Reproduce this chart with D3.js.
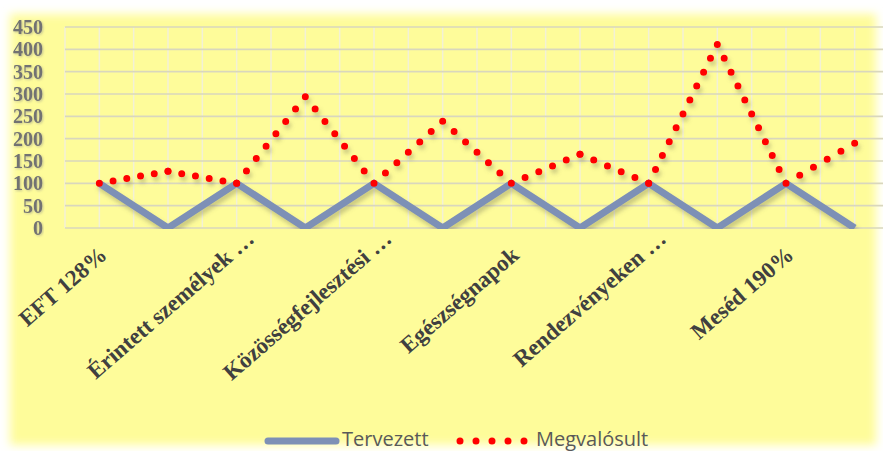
<!DOCTYPE html>
<html>
<head>
<meta charset="utf-8">
<script src="https://cdn.jsdelivr.net/npm/d3@7"></script>
<style>
  html, body { margin: 0; padding: 0; background: #fff; }
  svg { display: block; }
</style>
</head>
<body>
<div id="chart"></div>
<script>
const categories = [
  'EFT 128%', '', 'Érintett személyek …', '', 'Közösségfejlesztési …', '',
  'Egészségnapok', '', 'Rendezvényeken …', '', 'Meséd 190%', ''
]
const tervezett = [100, 0, 100, 0, 100, 0, 100, 0, 100, 0, 100, 0]
const megvalosult = [100, 127, 100, 294, 100, 239, 100, 165, 100, 411, 100, 190]
const yTicks = [0, 50, 100, 150, 200, 250, 300, 350, 400, 450]
const seriesNames = ['Tervezett', 'Megvalósult']

const width = 883
const height = 451
const plot = { left: 65, right: 889, top: 27, bottom: 228 }

const blue = '#7d90b6'
const red = '#ff0000'

const svg = d3.select('#chart')
  .append('svg')
  .attr('width', width)
  .attr('height', height)

const defs = svg.append('defs')

defs.append('filter')
  .attr('id', 'glow')
  .attr('x', '-10%').attr('y', '-10%')
  .attr('width', '120%').attr('height', '120%')
  .append('feGaussianBlur')
  .attr('stdDeviation', 5)

const shadow = defs.append('filter')
  .attr('id', 'shadow')
  .attr('x', '-10%').attr('y', '-10%')
  .attr('width', '120%').attr('height', '130%')
shadow.append('feDropShadow')
  .attr('dx', 2).attr('dy', 4)
  .attr('stdDeviation', 2)
  .attr('flood-color', '#6b6b50')
  .attr('flood-opacity', 0.35)

const textShadow = defs.append('filter').attr('id', 'tshadow')
textShadow.append('feDropShadow')
  .attr('dx', 1).attr('dy', 1)
  .attr('stdDeviation', 0.8)
  .attr('flood-color', '#888')
  .attr('flood-opacity', 0.5)

defs.append('clipPath')
  .attr('id', 'plotclip')
  .append('rect')
  .attr('x', 0).attr('y', 0)
  .attr('width', width).attr('height', plot.bottom + 1)

// background with soft white edge
svg.append('rect')
  .attr('width', width).attr('height', height)
  .attr('fill', '#fff')
svg.append('rect')
  .attr('x', 10).attr('y', 14)
  .attr('width', 866).attr('height', 431)
  .attr('fill', '#fefc9a')
  .attr('filter', 'url(#glow)')

// scales
const x = d3.scaleBand()
  .domain(d3.range(categories.length))
  .range([plot.left, plot.right])

const y = d3.scaleLinear()
  .domain([0, 450])
  .range([plot.bottom, plot.top])

const cx = i => x(i) + x.bandwidth() / 2

// gridlines
const grid = svg.append('g')

const vLines = []
d3.range(categories.length).forEach(i => { vLines.push(x(i), cx(i)) })
vLines.push(plot.right)

grid.selectAll('line.v')
  .data(vLines)
  .join('line')
  .attr('class', 'v')
  .attr('x1', d => d).attr('x2', d => d)
  .attr('y1', plot.top).attr('y2', plot.bottom)
  .attr('stroke', '#f3f1d6')
  .attr('stroke-width', 1.5)

grid.selectAll('line.h')
  .data(yTicks)
  .join('line')
  .attr('class', 'h')
  .attr('x1', plot.left).attr('x2', width)
  .attr('y1', d => y(d)).attr('y2', d => y(d))
  .attr('stroke', '#d9d7bd')
  .attr('stroke-width', 1.6)

// y axis
const yAxisG = svg.append('g')
  .attr('transform', `translate(${plot.left - 22}, 0)`)
  .call(d3.axisLeft(y).tickValues(yTicks).tickSize(0).tickPadding(0))

yAxisG.select('.domain').remove()
yAxisG.selectAll('text')
  .attr('font-family', '"Liberation Serif", serif')
  .attr('font-weight', 'bold')
  .attr('font-size', 20)
  .attr('fill', '#727272')
  .attr('filter', 'url(#tshadow)')

// x axis labels
const xLabels = svg.append('g')
xLabels.selectAll('text')
  .data(d3.range(categories.length).filter(i => categories[i]))
  .join('text')
  .attr('transform', i => {
    const trunc = categories[i].endsWith('…')
    const tx = cx(i) + (trunc ? 19 : 9)
    const ty = trunc ? 241 : 257
    return `translate(${tx}, ${ty}) rotate(-41)`
  })
  .attr('text-anchor', 'end')
  .attr('font-family', '"Liberation Serif", serif')
  .attr('font-weight', 'bold')
  .attr('font-size', 23)
  .attr('fill', '#404040')
  .text(i => categories[i])

// series
const lines = svg.append('g')
  .attr('clip-path', 'url(#plotclip)')
  .attr('filter', 'url(#shadow)')

const line = d3.line()
  .x((d, i) => cx(i))
  .y(d => y(d))

lines.append('path')
  .datum(tervezett)
  .attr('d', line)
  .attr('fill', 'none')
  .attr('stroke', blue)
  .attr('stroke-width', 7)
  .attr('stroke-linejoin', 'miter')

// dotted series: one dash run per segment so a dot sits on each point
const dotStep = 14.8
const segs = d3.pairs(megvalosult.map((d, i) => [cx(i), y(d)]))
lines.selectAll('path.seg')
  .data(segs)
  .join('path')
  .attr('class', 'seg')
  .attr('d', d => d3.line()(d))
  .attr('fill', 'none')
  .attr('stroke', red)
  .attr('stroke-width', 7)
  .attr('stroke-linecap', 'round')
  .attr('stroke-dasharray', d => {
    const len = Math.hypot(d[1][0] - d[0][0], d[1][1] - d[0][1])
    const n = Math.max(1, Math.round(len / dotStep))
    return `0 ${len / n}`
  })

// legend
const legend = svg.append('g')
const legendFont = '"Open Sans", sans-serif'

legend.append('line')
  .attr('x1', 268).attr('x2', 336)
  .attr('y1', 441).attr('y2', 441)
  .attr('stroke', blue)
  .attr('stroke-width', 7)
  .attr('stroke-linecap', 'round')

legend.append('text')
  .attr('x', 342).attr('y', 446)
  .attr('font-family', legendFont)
  .attr('font-size', 20)
  .attr('fill', '#595959')
  .text(seriesNames[0])

legend.append('line')
  .attr('x1', 460).attr('x2', 525)
  .attr('y1', 441).attr('y2', 441)
  .attr('stroke', red)
  .attr('stroke-width', 7)
  .attr('stroke-linecap', 'round')
  .attr('stroke-dasharray', '0 16')

legend.append('text')
  .attr('x', 536).attr('y', 446)
  .attr('font-family', legendFont)
  .attr('font-size', 20)
  .attr('fill', '#595959')
  .text(seriesNames[1])
</script>
</body>
</html>
